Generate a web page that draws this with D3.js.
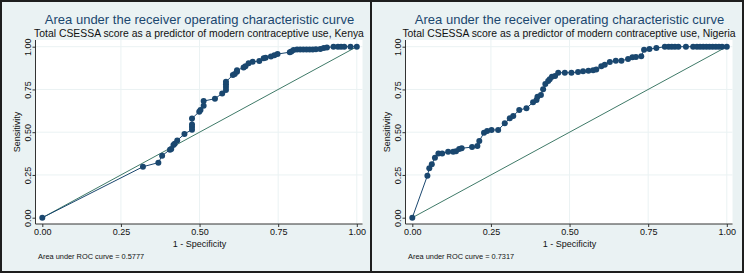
<!DOCTYPE html>
<html>
<head>
<meta charset="utf-8">
<script src="https://cdn.jsdelivr.net/npm/d3@7"></script>
<style>
  body { margin: 0; background: #fff; }
  svg { display: block; font-family: "Liberation Sans", Arial, sans-serif; }
</style>
</head>
<body>
<svg id="chart"></svg>
<script>
const width = 744;
const height = 273;

// ROC points: 1 - specificity, sensitivity
const kenyaFpr = [0, 0.320, 0.369, 0.381, 0.406, 0.410, 0.417, 0.421, 0.429, 0.452, 0.476, 0.476, 0.476, 0.476,
  0.499, 0.503, 0.513, 0.513, 0.549, 0.572, 0.584, 0.584, 0.584, 0.584, 0.606, 0.612, 0.619, 0.619, 0.640, 0.646,
  0.656, 0.669, 0.690, 0.704, 0.710, 0.727, 0.738, 0.748, 0.787, 0.792, 0.799, 0.810, 0.820, 0.830, 0.840, 0.850,
  0.860, 0.870, 0.884, 0.895, 0.905, 0.926, 0.940, 0.950, 0.960, 0.980, 1];
const kenyaTpr = [0, 0.298, 0.322, 0.363, 0.398, 0.402, 0.425, 0.432, 0.452, 0.490, 0.515, 0.530, 0.545, 0.580,
  0.620, 0.630, 0.655, 0.682, 0.696, 0.727, 0.747, 0.765, 0.780, 0.795, 0.834, 0.840, 0.854, 0.862, 0.878, 0.885,
  0.903, 0.912, 0.916, 0.932, 0.936, 0.942, 0.950, 0.957, 0.968, 0.972, 0.980, 0.983, 0.983, 0.983, 0.983, 0.983,
  0.983, 0.985, 0.987, 0.992, 0.995, 1, 1, 1, 1, 1, 1];

const nigeriaFpr = [0, 0.048, 0.054, 0.062, 0.072, 0.083, 0.095, 0.114, 0.130, 0.139, 0.149, 0.157, 0.190, 0.207,
  0.213, 0.228, 0.238, 0.252, 0.273, 0.294, 0.310, 0.321, 0.340, 0.363, 0.384, 0.395, 0.398, 0.409, 0.416, 0.423,
  0.432, 0.437, 0.444, 0.454, 0.464, 0.485, 0.506, 0.527, 0.543, 0.560, 0.575, 0.585, 0.601, 0.612, 0.628, 0.647,
  0.665, 0.686, 0.700, 0.711, 0.728, 0.737, 0.754, 0.776, 0.803, 0.815, 0.825, 0.835, 0.846, 0.870, 0.893, 0.905,
  0.915, 0.925, 0.935, 0.945, 0.955, 0.965, 0.975, 0.985, 1];
const nigeriaTpr = [0, 0.246, 0.289, 0.312, 0.351, 0.376, 0.376, 0.386, 0.386, 0.388, 0.402, 0.406, 0.413, 0.419,
  0.449, 0.497, 0.507, 0.513, 0.513, 0.552, 0.581, 0.595, 0.630, 0.640, 0.675, 0.688, 0.708, 0.718, 0.751, 0.782,
  0.799, 0.809, 0.825, 0.829, 0.848, 0.848, 0.848, 0.852, 0.856, 0.860, 0.862, 0.866, 0.885, 0.895, 0.911, 0.918,
  0.918, 0.928, 0.938, 0.940, 0.944, 0.982, 0.986, 0.992, 1, 1, 1, 1, 1, 1, 1, 1,
  1, 1, 1, 1, 1, 1, 1, 1, 1];

const tickValues = [0, 0.25, 0.5, 0.75, 1];
const titleText = "Area under the receiver operating characteristic curve";
const subtitles = [
  "Total CSESSA score as a predictor of modern contraceptive use, Kenya",
  "Total CSESSA score as a predictor of modern contraceptive use, Nigeria"
];
const aucNotes = ["Area under ROC curve = 0.5777", "Area under ROC curve = 0.7317"];

const navy = "#1a476f";
const refColor = "#3f7a68";
const bgColor = "#eaf2f3";

const svg = d3.select("#chart").attr("width", width).attr("height", height);

const panels = [
  { fpr: kenyaFpr, tpr: kenyaTpr, sub: subtitles[0], note: aucNotes[0], x0: 0, w: 372 },
  { fpr: nigeriaFpr, tpr: nigeriaTpr, sub: subtitles[1], note: aucNotes[1], x0: 370, w: 374 }
];

panels.forEach((p) => {
  const g = svg.append("g").attr("transform", `translate(${p.x0}, 0)`);

  g.append("rect")
    .attr("x", 1).attr("y", 1)
    .attr("width", p.w - 2).attr("height", height - 2)
    .attr("fill", bgColor)
    .attr("stroke", "#1e1e1e")
    .attr("stroke-width", 2);

  const xScale = d3.scaleLinear().domain([0, 1]).range([42.3, 356.8]);
  const yScale = d3.scaleLinear().domain([0, 1]).range([217.7, 46.7]);

  const plotLeft = 35.5, plotRight = 362.5, plotTop = 40, plotBottom = 224;

  g.append("rect")
    .attr("x", plotLeft).attr("y", plotTop)
    .attr("width", plotRight - plotLeft).attr("height", plotBottom - plotTop)
    .attr("fill", "#ffffff");

  // gridlines
  g.selectAll(".vgrid")
    .data(tickValues.slice(1))
    .enter()
    .append("line")
    .attr("x1", (d) => xScale(d)).attr("x2", (d) => xScale(d))
    .attr("y1", plotTop).attr("y2", plotBottom)
    .attr("stroke", bgColor).attr("stroke-width", 1);

  g.selectAll(".hgrid")
    .data(tickValues.slice(1))
    .enter()
    .append("line")
    .attr("x1", plotLeft).attr("x2", plotRight)
    .attr("y1", (d) => yScale(d)).attr("y2", (d) => yScale(d))
    .attr("stroke", bgColor).attr("stroke-width", 1);

  // axes
  const xAxis = d3.axisBottom(xScale).tickValues(tickValues).tickFormat(d3.format(".2f"))
    .tickSizeOuter(0).tickSizeInner(3).tickPadding(2);
  const xg = g.append("g").attr("transform", `translate(0, ${plotBottom})`).call(xAxis);
  xg.select(".domain").attr("d", `M${plotLeft},0H${plotRight}`).attr("stroke", "#333");
  xg.selectAll(".tick line").attr("stroke", "#333");
  xg.selectAll(".tick text").attr("font-size", 9).attr("fill", "#111")
    .attr("font-family", "Liberation Sans, Arial, sans-serif");

  const yAxis = d3.axisLeft(yScale).tickValues(tickValues).tickFormat(d3.format(".2f"))
    .tickSizeOuter(0).tickSizeInner(3);
  const yg = g.append("g").attr("transform", `translate(${plotLeft}, 0)`).call(yAxis);
  yg.select(".domain").attr("d", `M0,${plotTop}V${plotBottom}`).attr("stroke", "#333");
  yg.selectAll(".tick line").attr("stroke", "#333");
  yg.selectAll(".tick text")
    .attr("font-size", 9).attr("fill", "#111")
    .attr("font-family", "Liberation Sans, Arial, sans-serif")
    .attr("x", null).attr("dy", null)
    .attr("text-anchor", "middle")
    .attr("transform", "translate(-4.5, 0) rotate(-90)")
    .attr("y", 0);

  // reference diagonal
  g.append("line")
    .attr("x1", xScale(0)).attr("y1", yScale(0))
    .attr("x2", xScale(1)).attr("y2", yScale(1))
    .attr("stroke", refColor).attr("stroke-width", 1);

  const pts = p.fpr.map((f, i) => [f, p.tpr[i]]);

  const line = d3.line().x((d) => xScale(d[0])).y((d) => yScale(d[1]));
  g.append("path")
    .datum(pts)
    .attr("d", line)
    .attr("fill", "none")
    .attr("stroke", navy)
    .attr("stroke-width", 1);

  g.selectAll(".dot")
    .data(pts)
    .enter()
    .append("circle")
    .attr("cx", (d) => xScale(d[0]))
    .attr("cy", (d) => yScale(d[1]))
    .attr("r", 3)
    .attr("fill", navy);

  // titles
  g.append("text")
    .attr("x", (plotLeft + plotRight) / 2 + 0.5)
    .attr("y", 23.5)
    .attr("text-anchor", "middle")
    .attr("font-size", 13)
    .attr("fill", navy)
    .text(titleText);

  g.append("text")
    .attr("x", (plotLeft + plotRight) / 2)
    .attr("y", 37)
    .attr("text-anchor", "middle")
    .attr("font-size", 10.4)
    .attr("fill", "#111")
    .text(p.sub);

  g.append("text")
    .attr("x", (xScale(0) + xScale(1)) / 2)
    .attr("y", 247)
    .attr("text-anchor", "middle")
    .attr("font-size", 9)
    .attr("fill", "#111")
    .text("1 - Specificity");

  g.append("text")
    .attr("transform", `translate(20, ${(plotTop + plotBottom) / 2}) rotate(-90)`)
    .attr("text-anchor", "middle")
    .attr("font-size", 9)
    .attr("fill", "#111")
    .text("Sensitivity");

  g.append("text")
    .attr("x", 38)
    .attr("y", 259)
    .attr("font-size", 7.4)
    .attr("fill", "#111")
    .text(p.note);
});
</script>
</body>
</html>
